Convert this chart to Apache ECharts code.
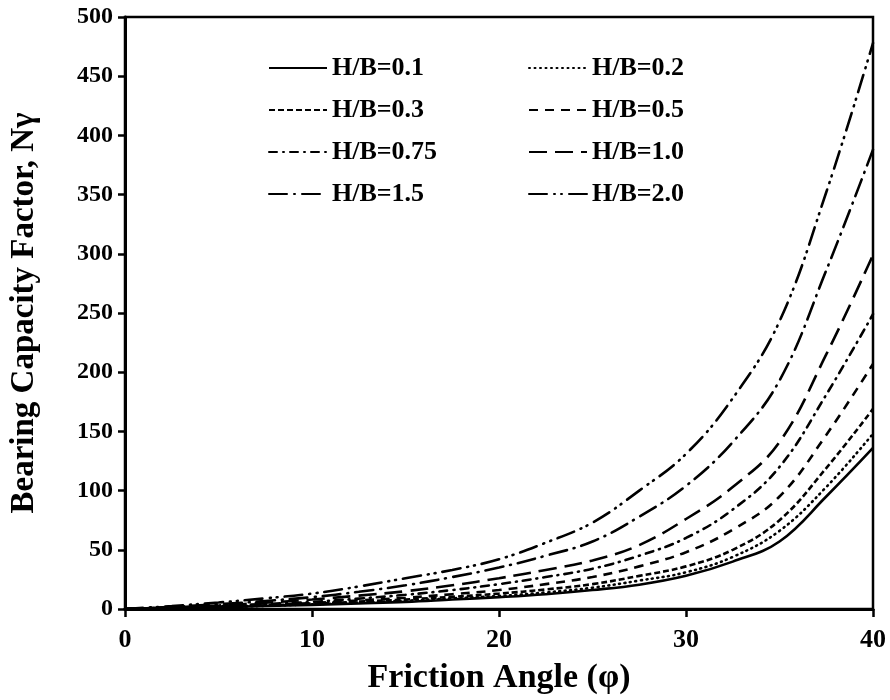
<!DOCTYPE html>
<html>
<head>
<meta charset="utf-8">
<script src="https://cdn.jsdelivr.net/npm/echarts@6/dist/echarts.min.js"></script>
<style>html,body{margin:0;padding:0;background:#fff}#c{width:890px;height:700px}</style>
</head>
<body>
<div id="c"></div>
<script>
// Friction angle (degrees)
var phi = [0, 2.5, 5, 7.5, 10, 12.5, 15, 17.5, 20, 22.5, 25, 27.5, 30, 32.5, 35, 37.5, 40];
// Bearing capacity factor N-gamma for each H/B ratio
var hb01  = [0, 0.7, 1.5, 2.5, 3.5, 4.7, 6, 8, 10, 12.5, 16, 20.5, 28, 40, 57, 95, 136];
var hb02  = [0, 0.7, 1.5, 2.7, 4, 5.4, 7, 9, 11, 14, 18, 24, 31, 44, 66, 103, 148];
var hb03  = [0, 0.8, 1.8, 3.1, 4.5, 6.2, 8, 10.3, 13, 16.5, 21, 28, 36, 50, 75, 119, 169];
var hb05  = [0, 1, 2.2, 3.5, 5, 7.2, 9.5, 12.5, 16, 21, 27, 36, 48, 67, 95, 147, 207];
var hb075 = [0, 1.2, 2.6, 4.2, 6, 8.8, 12, 16, 21, 27, 34, 45, 60, 84, 120, 181, 249];
var hb10  = [0, 1.4, 3, 5.3, 8, 11.3, 15, 20, 26, 33, 41, 54, 76, 103, 141, 215, 299];
var hb15  = [0, 1.8, 4, 6.8, 10, 14.5, 20, 27, 35, 45, 57, 78, 104, 141, 193, 286, 388];
var hb20  = [0, 2.5, 5.5, 9, 13, 19, 26, 33, 42, 56, 73, 100, 131, 178, 243, 352, 478];
var names = ['H/B=0.1','H/B=0.2','H/B=0.3','H/B=0.5','H/B=0.75','H/B=1.0','H/B=1.5','H/B=2.0'];
var xTicks = [0, 10, 20, 30, 40];
var yTicks = [0, 50, 100, 150, 200, 250, 300, 350, 400, 450, 500];

var allData = [hb01, hb02, hb03, hb05, hb075, hb10, hb15, hb20];
var dashes = ['solid', [1, 4.5], [6, 3], [9, 7], [8, 6, 1, 6], [18, 8], [18, 7, 1, 7], [18, 7, 1, 6, 1, 7]];
var caps = ['butt', 'round', 'butt', 'butt', 'round', 'butt', 'round', 'round'];

function pair(arr) { return phi.map(function (p, i) { return [p, arr[i]]; }); }

var font = '"Liberation Serif", "Times New Roman", serif';
var series = allData.map(function (d, i) {
  return {
    name: names[i], type: 'line', data: pair(d), symbol: 'none', showSymbol: false, smooth: 0.4,
    lineStyle: { color: '#000', width: 2.6, type: dashes[i], cap: caps[i] },
    itemStyle: { color: '#000' }, z: 3
  };
});

var chart = echarts.init(document.getElementById('c'), null, { renderer: 'canvas' });
var legendBase = {
  orient: 'vertical', top: 55, itemWidth: 58, itemHeight: 26, itemGap: 16, padding: 0,
  itemStyle: { opacity: 0, borderWidth: 0 },
  textStyle: { fontFamily: font, fontWeight: 'bold', fontSize: 26, color: '#000', lineHeight: 26 },
  selectedMode: false
};
chart.setOption({
  animation: false,
  backgroundColor: '#fff',
  grid: { left: 124, right: 17, top: 17, bottom: 90, show: true, borderColor: '#000', borderWidth: 2.5, containLabel: false },
  legend: [
    Object.assign({}, legendBase, { left: 268, data: [names[0], names[2], names[4], names[6]] }),
    Object.assign({}, legendBase, { left: 528, data: [names[1], names[3], names[5], names[7]] })
  ],
  xAxis: {
    type: 'value', min: xTicks[0], max: xTicks[xTicks.length - 1], interval: 10,
    name: 'Friction Angle (\u03c6)', nameLocation: 'middle', nameGap: 52,
    nameTextStyle: { fontFamily: font, fontWeight: 'bold', fontSize: 34, color: '#000' },
    axisLine: { lineStyle: { color: '#000', width: 3 } },
    axisTick: { show: true, inside: false, length: 8, lineStyle: { color: '#000', width: 2.5 } },
    axisLabel: { fontFamily: font, fontWeight: 'bold', fontSize: 26, color: '#000', margin: 18 },
    splitLine: { show: false }
  },
  yAxis: {
    type: 'value', min: yTicks[0], max: yTicks[yTicks.length - 1], interval: 50,
    name: 'Bearing Capacity Factor, N\u03b3', nameLocation: 'middle', nameGap: 84,
    nameTextStyle: { fontFamily: font, fontWeight: 'bold', fontSize: 33, color: '#000' },
    axisLine: { show: true, lineStyle: { color: '#000', width: 3 } },
    axisTick: { show: true, inside: false, length: 7, lineStyle: { color: '#000', width: 2.5 } },
    axisLabel: { fontFamily: font, fontWeight: 'bold', fontSize: 24, color: '#000', margin: 12 },
    splitLine: { show: false }
  },
  series: series
});
</script>
</body>
</html>
